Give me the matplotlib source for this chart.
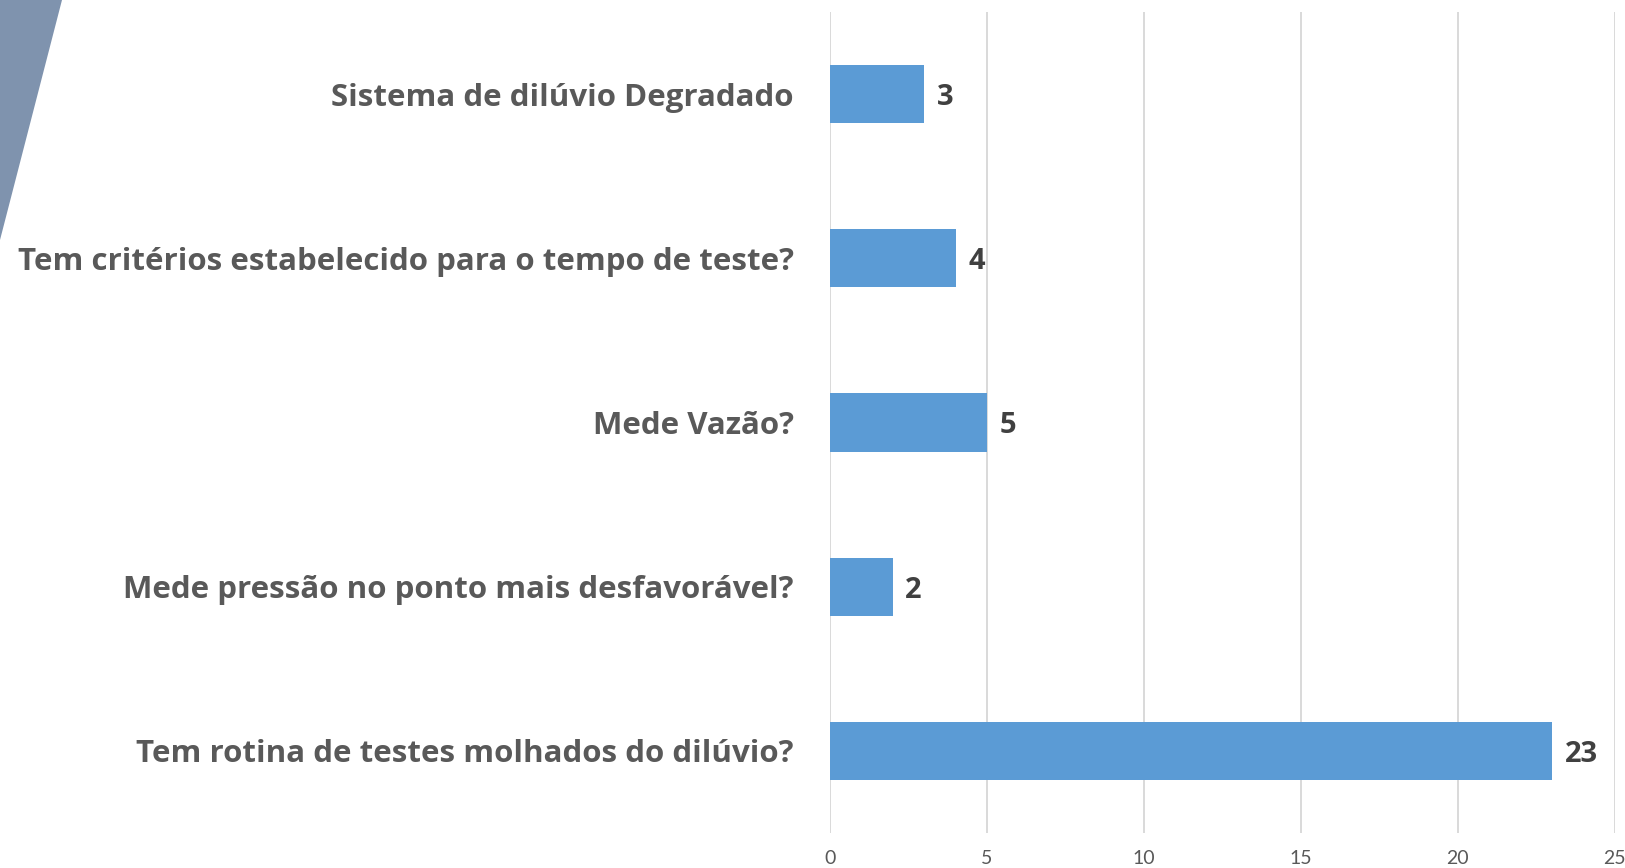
# Horizontal bar chart: dilúvio test survey answers
import matplotlib
matplotlib.use('Agg')
import matplotlib.pyplot as plt
from matplotlib.patches import Polygon

# ── data (top to bottom) ────────────────────────────────────
categories = [
    'Sistema de dilúvio Degradado',
    'Tem critérios estabelecido para o tempo de teste?',
    'Mede Vazão?',
    'Mede pressão no ponto mais desfavorável?',
    'Tem rotina de testes molhados do dilúvio?',
]
values = [3, 4, 5, 2, 23]
x_ticks = [0, 5, 10, 15, 20, 25]

BAR_COLOR = '#5B9BD5'
LABEL_COLOR = '#595959'
VALUE_COLOR = '#404040'
GRID_COLOR = '#D9D9D9'

plt.rcParams['font.family'] = ['Lato', 'DejaVu Sans']
BOLD_FONT = ['Open Sans', 'DejaVu Sans']

fig = plt.figure(figsize=(16.25, 8.68), dpi=100)
ax = fig.add_axes([0.5108, 0.0403, 0.4830, 0.9459])

# decorative wedge in the top-left corner
fig.patches.append(Polygon([[0, 1], [62 / 1625, 1], [0, 1 - 240 / 868]],
                           closed=True, transform=fig.transFigure,
                           facecolor='#7F93AE', edgecolor='none'))

pos = list(range(len(categories)))
bars = ax.barh(pos, values, height=0.355, color=BAR_COLOR, zorder=3)

for bar, v in zip(bars, values):
    ax.annotate(str(v), xy=(bar.get_width(), bar.get_y() + bar.get_height() / 2),
                xytext=(9, -2.5), textcoords='offset points',
                va='center', ha='left', fontsize=21, fontweight='bold',
                family=BOLD_FONT, color=VALUE_COLOR)

ax.set_yticks(pos)
ax.set_yticklabels(categories, fontsize=22.5, fontweight='bold',
                   family=BOLD_FONT, color=LABEL_COLOR)
ax.set_ylim(len(categories) - 0.5, -0.5)

ax.set_xlim(0, 25)
ax.set_xticks(x_ticks)
ax.set_xticklabels([str(t) for t in x_ticks], fontsize=14, color=LABEL_COLOR)
ax.tick_params(axis='y', length=0, pad=26)
ax.tick_params(axis='x', length=0, pad=12)

ax.grid(axis='x', color=GRID_COLOR, linewidth=1.4, zorder=0)
for s in ax.spines.values():
    s.set_visible(False)

fig.savefig('out.png', dpi=100)
